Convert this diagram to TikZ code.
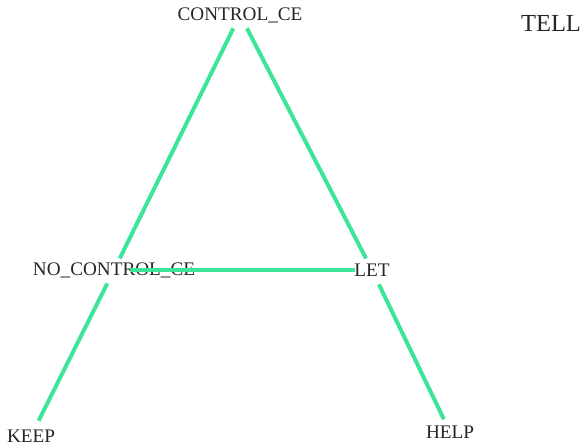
\documentclass[tikz,border=0pt]{standalone}
\usepackage{fontspec}
\setmainfont{Liberation Serif}
\definecolor{edgegreen}{RGB}{60,230,150}
\begin{document}
\begin{tikzpicture}[x=1pt,y=1pt,
  lbl/.style={inner sep=0pt,font=\fontsize{19.2}{21}\selectfont,text=black!85},
  edge/.style={draw=edgegreen,line width=4pt}]
\useasboundingbox (0,0) rectangle (582,446);
\node[lbl] (ctrl) at (240,431) {CONTROL\_CE};
\node[lbl,font=\fontsize{24.5}{26}\selectfont] (tell) at (551,423) {TELL};
\node[lbl] (noctrl) at (114,176) {NO\_CONTROL\_CE};
\node[lbl] (let) at (372,176) {LET};
\node[lbl] (keep) at (31,10) {KEEP};
\node[lbl] (help) at (450,14) {HELP};
\draw[edge,shorten <=15pt,shorten >=13pt] (ctrl.center) -- (noctrl.center);
\draw[edge,shorten <=15pt,shorten >=13pt] (ctrl.center) -- (let.center);
\draw[edge,shorten <=16pt,shorten >=17pt] (noctrl.center) -- (let.center);
\draw[edge,shorten <=15pt,shorten >=17pt] (noctrl.center) -- (keep.center);
\draw[edge,shorten <=16pt,shorten >=14pt] (let.center) -- (help.center);
\end{tikzpicture}
\end{document}
